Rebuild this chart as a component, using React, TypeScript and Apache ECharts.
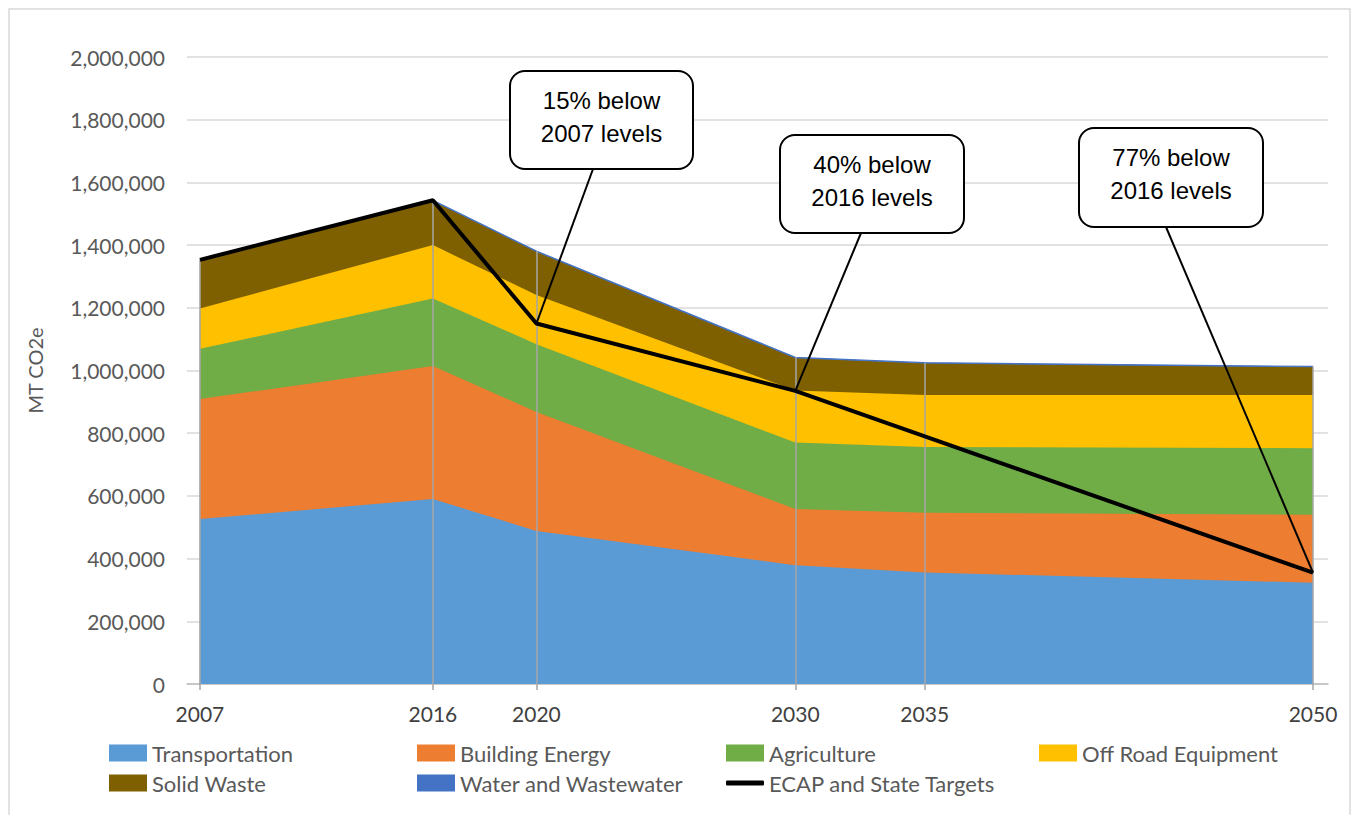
import React, { useEffect, useRef } from "react";
import * as echarts from "echarts";

const years = [2007, 2016, 2020, 2030, 2035, 2050];
const transportation = [526000, 590000, 488000, 379000, 356000, 323000];
const buildingEnergy = [383000, 424000, 380000, 179000, 190000, 217000];
const agriculture = [160000, 216000, 216000, 212000, 210000, 212000];
const offRoad = [129000, 170000, 157000, 166000, 166000, 170000];
const solidWaste = [152000, 140000, 137000, 103000, 100000, 88000];
const water = [3000, 3000, 3000, 3000, 3000, 3000];

const targetYears = [2007, 2016, 2020, 2030, 2050];
const targetValues = [1353000, 1543000, 1150000, 935000, 355000];

const areaNames = [
  "Transportation",
  "Building Energy",
  "Agriculture",
  "Off Road Equipment",
  "Solid Waste",
  "Water and Wastewater",
];
const areaData = [transportation, buildingEnergy, agriculture, offRoad, solidWaste, water];
const areaColors = ["#5B9BD5", "#ED7D31", "#70AD47", "#FFC000", "#7F6000", "#4472C4"];
const targetName = "ECAP and State Targets";

const callouts = [
  { text: "15% below\n2007 levels", year: 2020, box: [510, 71, 183, 98], from: [593, 169] },
  { text: "40% below\n2016 levels", year: 2030, box: [780, 135, 184, 98], from: [861, 233] },
  { text: "77% below\n2016 levels", year: 2050, box: [1079, 128, 184, 99], from: [1166, 227] },
];

const FONT = "Lato";

export default function App() {
  const ref = useRef<HTMLDivElement>(null);

  useEffect(() => {
    document.body.style.margin = "0";
    const chart = echarts.init(ref.current!, undefined, { renderer: "svg" });

    // cumulative tops of the stack (stacking done here, drawn top layer first)
    const cumulative: number[][] = [];
    areaData.forEach((arr, k) => {
      cumulative.push(arr.map((v, i) => v + (k > 0 ? cumulative[k - 1][i] : 0)));
    });
    const totals = cumulative[cumulative.length - 1];

    const order = [5, 4, 3, 2, 1, 0];
    const areaSeries: any[] = order.map((k, n) => ({
      name: areaNames[k],
      type: "line",
      data: years.map((y, i) => [y, cumulative[k][i]]),
      showSymbol: false,
      symbol: "none",
      color: areaColors[k],
      lineStyle: { width: k === 5 ? 1.2 : 0, color: areaColors[k] },
      areaStyle: { color: areaColors[k], opacity: 1, origin: "start" },
      itemStyle: { color: areaColors[k] },
      z: 2,
      emphasis: { disabled: true },
      markLine:
        n === order.length - 1
          ? {
              silent: true,
              symbol: "none",
              label: { show: false },
              lineStyle: { color: "#a6a6a6", width: 1.5, type: "solid" },
              emphasis: { disabled: true },
              data: years.map((y, i) => [{ coord: [y, 0] }, { coord: [y, totals[i]] }]),
            }
          : undefined,
    }));

    const legendPos = [
      [109, 742],
      [417, 742],
      [726, 742],
      [1039, 742],
      [109, 772],
      [417, 772],
      [726, 772],
    ];
    const legendNames = [...areaNames, targetName];
    const legends = legendNames.map((n, i) => ({
      data: [{ name: n, icon: n === targetName ? "roundRect" : "rect" }],
      left: legendPos[i][0],
      top: legendPos[i][1],
      padding: 0,
      itemWidth: 38,
      itemHeight: n === targetName ? 5 : 17,
      itemGap: 0,
      selectedMode: false,
      textStyle: { fontFamily: FONT, fontSize: 22, color: "#595959" },
    }));

    chart.setOption({
      animation: false,
      grid: { left: 187, right: 26, top: 57, bottom: 131, containLabel: false },
      legend: legends,
      xAxis: {
        type: "value",
        min: 2006.5,
        max: 2050.58,
        axisLine: { show: true, lineStyle: { color: "#bfbfbf", width: 1.5 } },
        axisTick: { show: true, customValues: years, length: 6, lineStyle: { color: "#a6a6a6", width: 1.5 } },
        axisLabel: {
          customValues: years,
          formatter: (v: number) => String(v),
          fontFamily: FONT,
          fontSize: 21,
          color: "#404040",
          margin: 19,
        },
        splitLine: { show: false },
      },
      yAxis: {
        type: "value",
        min: 0,
        max: 2000000,
        interval: 200000,
        name: "MT CO2e",
        nameLocation: "middle",
        nameGap: 142,
        nameTextStyle: { fontFamily: FONT, fontSize: 20, color: "#595959" },
        axisLine: { show: false },
        axisTick: { show: false },
        axisLabel: {
          fontFamily: FONT,
          fontSize: 21,
          color: "#595959",
          margin: 22,
          formatter: (v: number) => v.toLocaleString("en-US"),
        },
        splitLine: { show: true, lineStyle: { color: "#d9d9d9", width: 1.5 } },
      },
      series: [
        ...areaSeries,
        {
          name: targetName,
          type: "line",
          data: targetYears.map((y, i) => [y, targetValues[i]]),
          showSymbol: false,
          symbol: "none",
          color: "#000",
          lineStyle: { color: "#000", width: 4 },
          itemStyle: { color: "#000" },
          z: 5,
          emphasis: { disabled: true },
        },
      ],
    });

    const graphics: any[] = [
      {
        type: "rect",
        silent: true,
        shape: { x: 9, y: 9, width: 1341, height: 830 },
        style: { fill: "none", stroke: "#d9d9d9", lineWidth: 1.5 },
        z: 0,
      },
    ];
    callouts.forEach((c) => {
      const idx = targetYears.indexOf(c.year);
      const p = chart.convertToPixel({ xAxisIndex: 0, yAxisIndex: 0 }, [c.year, targetValues[idx]]) as number[];
      graphics.push({
        type: "line",
        silent: true,
        z: 10,
        shape: { x1: c.from[0], y1: c.from[1], x2: p[0], y2: p[1] },
        style: { stroke: "#000", lineWidth: 2 },
      });
      graphics.push({
        type: "rect",
        silent: true,
        z: 11,
        shape: { x: c.box[0], y: c.box[1], width: c.box[2], height: c.box[3], r: 15 },
        style: { fill: "#fff", stroke: "#000", lineWidth: 2 },
      });
      graphics.push({
        type: "text",
        silent: true,
        z: 12,
        x: c.box[0] + c.box[2] / 2,
        y: c.box[1] + c.box[3] / 2 - 3.5,
        style: {
          text: c.text,
          fontFamily: "Liberation Sans",
          fontSize: 24,
          lineHeight: 33,
          fill: "#000",
          align: "center",
          verticalAlign: "middle",
        },
      });
    });
    chart.setOption({ graphic: graphics });

    return () => chart.dispose();
  }, []);

  return <div ref={ref} style={{ width: 1354, height: 815 }} />;
}
